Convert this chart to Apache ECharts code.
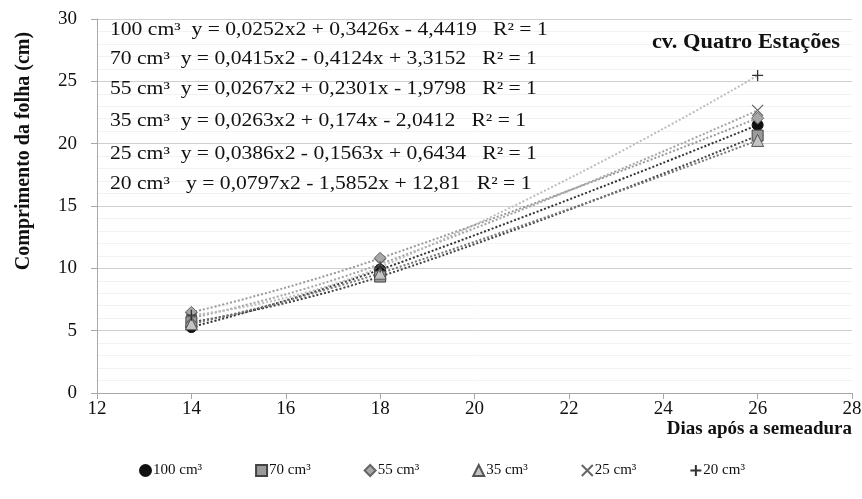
<!DOCTYPE html>
<html>
<head>
<meta charset="utf-8">
<script src="https://cdn.jsdelivr.net/npm/echarts@6/dist/echarts.min.js"></script>
<style>
html,body{margin:0;padding:0;background:#fff;}
#chart{width:862px;height:499px;}
</style>
</head>
<body>
<div id="chart"></div>
<script>
// Data
var days = [14, 18, 26];
var seriesNames = ['100 cm³', '70 cm³', '55 cm³', '35 cm³', '25 cm³', '20 cm³'];
var v100 = [5.29, 9.89, 21.50];
var v70 = [5.68, 9.34, 20.65];
var v55 = [6.47, 10.81, 22.05];
var v35 = [5.55, 9.61, 20.26];
var v25 = [6.02, 10.34, 22.67];
var v20 = [6.24, 10.10, 25.47];
var xTicks = [12, 14, 16, 18, 20, 22, 24, 26, 28];
var yTicks = [0, 5, 10, 15, 20, 25, 30];
var equations = [
  '100 cm³  y = 0,0252x2 + 0,3426x - 4,4419   R² = 1',
  '70 cm³  y = 0,0415x2 - 0,4124x + 3,3152   R² = 1',
  '55 cm³  y = 0,0267x2 + 0,2301x - 1,9798   R² = 1',
  '35 cm³  y = 0,0263x2 + 0,174x - 2,0412   R² = 1',
  '25 cm³  y = 0,0386x2 - 0,1563x + 0,6434   R² = 1',
  '20 cm³   y = 0,0797x2 - 1,5852x + 12,81   R² = 1'
];
var allValues = [v100, v70, v55, v35, v25, v20];

var serif = '"Liberation Serif", "DejaVu Serif", serif';
var symbols = ['circle', 'rect', 'diamond', 'triangle',
  'path://M0,0L10,10M10,0L0,10', 'path://M5,0L5,10M0,5L10,5'];
var fills = ['#111111', '#9a9a9a', '#a8a8a8', '#c4c4c4', 'transparent', 'transparent'];
var borders = ['#111111', '#444444', '#666666', '#555555', '#666666', '#333333'];
var lineColors = ['#333333', '#444444', '#9a9a9a', '#777777', '#a5a5a5', '#bdbdbd'];
var symSizes = [11, 11, 12, 12, 11, 11];

var series = [];
allValues.forEach(function (vals, i) {
  series.push({
    name: 'trend' + i,
    type: 'line',
    smooth: true,
    symbol: 'none',
    silent: true,
    z: 2,
    lineStyle: {color: lineColors[i], width: 2, type: 'dotted'},
    data: days.map(function (d, k) { return [d, vals[k]]; })
  });
});
allValues.forEach(function (vals, i) {
  series.push({
    name: seriesNames[i],
    type: 'scatter',
    symbol: symbols[i],
    symbolSize: symSizes[i],
    z: 5,
    itemStyle: {color: fills[i], borderColor: borders[i], borderWidth: (i >= 4 ? 1.3 : 1), opacity: 1},
    data: days.map(function (d, k) { return [d, vals[k]]; })
  });
});

var graphics = [];
var rowY = [30, 59, 89, 121, 154, 184];
equations.forEach(function (t, i) {
  graphics.push({
    type: 'text', x: 110, y: rowY[i], scaleX: 1.2, z: 10,
    style: {text: t, fontFamily: serif, fontSize: 18, fill: '#111', align: 'left', verticalAlign: 'middle'}
  });
});
graphics.push({
  type: 'text', x: 840, y: 43, scaleX: 1.12, z: 10,
  style: {text: 'cv. Quatro Estações', fontFamily: serif, fontWeight: 'bold', fontSize: 20, fill: '#111', align: 'right', verticalAlign: 'middle'}
});

var chart = echarts.init(document.getElementById('chart'), null, {renderer: 'canvas'});
chart.setOption({
  animation: false,
  backgroundColor: '#ffffff',
  grid: {left: 97, right: 10, top: 19, bottom: 106, containLabel: false, outerBoundsMode: 'none'},
  xAxis: {
    type: 'value', min: xTicks[0], max: xTicks[xTicks.length - 1], interval: 2,
    name: 'Dias após a semeadura', nameLocation: 'end', nameGap: 0, nameMoveOverlap: false,
    nameTextStyle: {fontFamily: serif, fontWeight: 'bold', fontSize: 19, color: '#111', align: 'right', verticalAlign: 'top', padding: [27, 0, 0, 0]},
    axisLine: {lineStyle: {color: '#a8a8a8', width: 1}},
    axisTick: {show: true, inside: false, length: 6, lineStyle: {color: '#a8a8a8'}},
    axisLabel: {fontFamily: serif, fontSize: 19, color: '#111', margin: 7},
    splitLine: {show: false}
  },
  yAxis: {
    type: 'value', min: yTicks[0], max: yTicks[yTicks.length - 1], interval: 5,
    name: 'Comprimento da folha (cm)', nameLocation: 'middle', nameGap: 63, nameRotate: 90,
    nameTextStyle: {fontFamily: serif, fontWeight: 'bold', fontSize: 20, color: '#111', padding: [0, 0, 0, 110]},
    axisLine: {show: true, lineStyle: {color: '#a8a8a8', width: 1}},
    axisTick: {show: true, inside: false, length: 6, lineStyle: {color: '#a8a8a8'}},
    axisLabel: {fontFamily: serif, fontSize: 19, color: '#111', margin: 20},
    splitLine: {show: true, lineStyle: {color: '#d0d0d0', width: 1}},
    minorTick: {show: false, splitNumber: 5},
    minorSplitLine: {show: true, lineStyle: {color: '#f2f2f2', width: 1}}
  },
  legend: {
    data: seriesNames,
    left: 134, top: 458,
    itemGap: 53, itemWidth: 11, itemHeight: 11,
    textStyle: {fontFamily: serif, fontSize: 15, color: '#111', padding: [0, 0, 0, -3]}
  },
  graphic: graphics,
  series: series
});
</script>
</body>
</html>
